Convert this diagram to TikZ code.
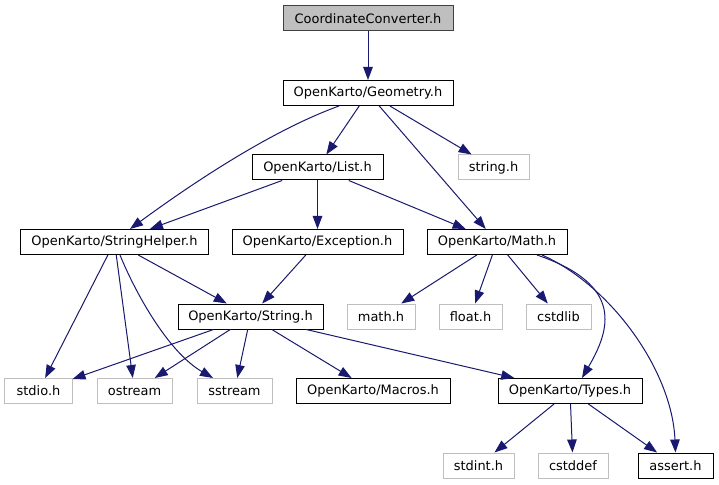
\documentclass[tikz,border=0pt]{standalone}
\usepackage{fontspec}
\setmainfont{DejaVu Sans}
\usetikzlibrary{arrows.meta,calc}
\definecolor{edgeblue}{HTML}{191970}
\definecolor{extgray}{HTML}{BFBFBF}
\definecolor{rootfill}{HTML}{BFBFBF}
\definecolor{docborder}{HTML}{000000}
\tikzset{
  box/.style={rectangle, inner sep=0pt, minimum height=25bp, line width=1bp,
    font=\fontsize{13}{15}\selectfont},
  doc/.style={box, draw=docborder, fill=white},
  ext/.style={box, draw=extgray, fill=white},
  root/.style={box, draw=black!75, fill=rootfill},
  dep/.style={draw=edgeblue, line width=1bp, -{Triangle[length=13bp,width=9.5bp]}}
}
\begin{document}
\begin{tikzpicture}[x=1bp,y=-1bp]
\fill[white] (0,0) rectangle (719,485);
\useasboundingbox (0,0) rectangle (719,485);
% row 0
\node[root, minimum width=170bp] (cc) at (368,18.5) {CoordinateConverter.h};
% row 1
\node[doc, minimum width=170bp] (geom) at (368,93) {OpenKarto/Geometry.h};
% row 2
\node[doc, minimum width=131bp] (list) at (317.5,167.5) {OpenKarto/List.h};
\node[ext, minimum width=71bp] (strh) at (493.5,167.5) {string.h};
% row 3
\node[doc, minimum width=187bp] (sh) at (114.5,242) {OpenKarto/StringHelper.h};
\node[doc, minimum width=171bp] (exc) at (317.5,242) {OpenKarto/Exception.h};
\node[doc, minimum width=140bp] (math) at (497,242) {OpenKarto/Math.h};
% row 4
\node[doc, minimum width=145bp] (str) at (250.5,316.5) {OpenKarto/String.h};
\node[ext, minimum width=68bp] (mathh) at (381,316.5) {math.h};
\node[ext, minimum width=63bp] (floath) at (470.5,316.5) {float.h};
\node[ext, minimum width=65bp] (cstdlib) at (558.5,316.5) {cstdlib};
% row 5
\node[ext, minimum width=67bp] (stdio) at (38.5,391) {stdio.h};
\node[ext, minimum width=75bp] (ostream) at (134.5,391) {ostream};
\node[ext, minimum width=75bp] (sstream) at (234.5,391) {sstream};
\node[doc, minimum width=154bp] (macros) at (373,391) {OpenKarto/Macros.h};
\node[doc, minimum width=144bp] (types) at (570,391) {OpenKarto/Types.h};
% row 6
\node[ext, minimum width=71bp] (stdint) at (478.5,465.5) {stdint.h};
\node[ext, minimum width=70bp] (cstddef) at (573,465.5) {cstddef};
\node[doc, minimum width=75bp] (assert) at (675.5,465.5) {assert.h};

% edges
\draw[dep] (cc) -- (geom);
\draw[dep] ($(geom.south)+(-29,0)$) .. controls (270,131) and (190,185) .. ($(sh.north)+(15.5,0)$);
\draw[dep] (geom) -- (list);
\draw[dep] (geom) -- (math);
\draw[dep] (geom) -- (strh);
\draw[dep] (list) -- (sh);
\draw[dep] (list) -- (exc);
\draw[dep] (list) -- (math);
\draw[dep] (sh) -- (stdio);
\draw[dep] (sh) -- (ostream);
\draw[dep] ($(sh.south)+(5.5,0)$) .. controls (135,292) and (168,352) .. ($(sstream.north)+(-21.5,0)$);
\draw[dep] (sh) -- (str);
\draw[dep] (exc) -- (str);
\draw[dep] (str) -- (stdio);
\draw[dep] (str) -- (ostream);
\draw[dep] (str) -- (sstream);
\draw[dep] (str) -- (macros);
\draw[dep] (str) -- (types);
\draw[dep] (math) -- (mathh);
\draw[dep] (math) -- (floath);
\draw[dep] (math) -- (cstdlib);
\draw[dep] ($(math.south)+(40,0)$) .. controls (625,285) and (610,330) .. ($(types.north)+(12,0)$);
\draw[dep] ($(math.south)+(45,0)$) .. controls (610,285) and (672,370) .. (assert.north);
\draw[dep] (types) -- (stdint);
\draw[dep] (types) -- (cstddef);
\draw[dep] (types) -- (assert);
\end{tikzpicture}
\end{document}
